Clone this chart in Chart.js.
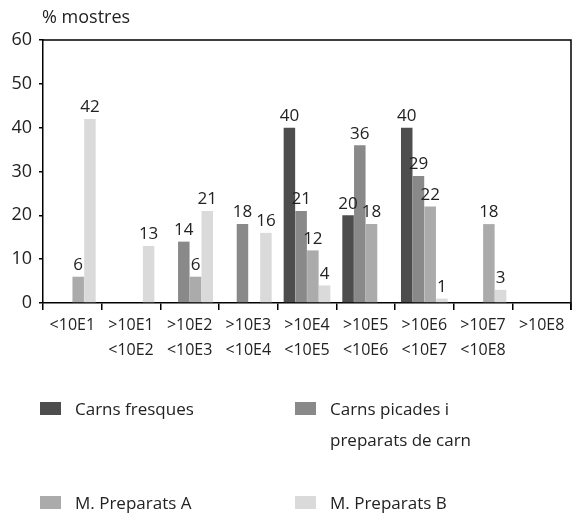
<!DOCTYPE html>
<html>
<head>
<meta charset="utf-8">
<script src="https://cdn.jsdelivr.net/npm/chart.js@4"></script>
<style>
  body { margin: 0; background: #fff; }
  #wrap { position: relative; width: 574px; height: 515px; font-family: "Open Sans", sans-serif; color: #222; }
  #legend .item { position: absolute; font-size: 17px; line-height: 31px; }
  #legend .box { position: absolute; width: 21px; height: 13px; }
</style>
</head>
<body>
<div id="wrap">
  <canvas id="myChart" width="574" height="515"></canvas>
  <div id="legend"></div>
</div>
<script>
let categories = [
    '<10E1',
    ['>10E1', '<10E2'],
    ['>10E2', '<10E3'],
    ['>10E3', '<10E4'],
    ['>10E4', '<10E5'],
    ['>10E5', '<10E6'],
    ['>10E6', '<10E7'],
    ['>10E7', '<10E8'],
    '>10E8'
]
let carnsFresques = [null, null, null, null, 40, 20, 40, null, null]
let carnsPicades = [null, null, 14, 18, 21, 36, 29, null, null]
let preparatsA = [6, null, 6, null, 12, 18, 22, 18, null]
let preparatsB = [42, 13, 21, 16, 4, null, 1, 3, null]
let yTicks = [0, 10, 20, 30, 40, 50, 60]

let seriesNames = ['Carns fresques', 'Carns picades i\npreparats de carn', 'M. Preparats A', 'M. Preparats B']
let colors = ['#4d4d4d', '#898989', '#ababab', '#dadada']

// etiquetes de valor damunt de cada barra
const valueLabels = {
    id: 'valueLabels',
    afterDatasetsDraw(chart) {
        const ctx = chart.ctx
        ctx.save()
        ctx.font = '17px "Open Sans", sans-serif'
        ctx.fillStyle = '#222'
        ctx.textAlign = 'center'
        ctx.textBaseline = 'bottom'
        chart.data.datasets.forEach((ds, i) => {
            chart.getDatasetMeta(i).data.forEach((bar, j) => {
                if (ds.data[j] == null) return
                ctx.fillText(ds.data[j], bar.x, bar.y - 3)
            })
        })
        ctx.restore()
    }
}

// marc superior i dret + títol de l'eix
const frame = {
    id: 'frame',
    afterDraw(chart) {
        const ctx = chart.ctx
        const a = chart.chartArea
        ctx.save()
        ctx.strokeStyle = '#000'
        ctx.lineWidth = 1.5
        ctx.beginPath()
        ctx.moveTo(a.left, a.top)
        ctx.lineTo(a.right, a.top)
        ctx.lineTo(a.right, a.bottom + 7)
        ctx.stroke()
        ctx.font = '18px "Open Sans", sans-serif'
        ctx.fillStyle = '#222'
        ctx.textBaseline = 'middle'
        ctx.fillText('% mostres', 42, 18)
        ctx.restore()
    }
}

const ctx = document.getElementById('myChart')

const dataset = {
    labels: categories,
    datasets: [carnsFresques, carnsPicades, preparatsA, preparatsB].map((d, i) => ({
        label: seriesNames[i],
        data: d,
        backgroundColor: colors[i],
        borderWidth: 0,
        categoryPercentage: 0.8,
        barPercentage: 0.98
    }))
}

const config = {
    type: 'bar',
    data: dataset,
    options: {
        responsive: false,
        animation: false,
        layout: { padding: { top: 40, right: 3, left: 0, bottom: 0 } },
        plugins: { legend: { display: false }, tooltip: { enabled: false } },
        scales: {
            x: {
                grid: { offset: true, drawOnChartArea: false, tickLength: 7, color: '#000', lineWidth: 1.5 },
                border: { color: '#000', width: 1.5 },
                ticks: { color: '#222', font: { family: 'Open Sans', size: 16, lineHeight: 1.55 }, padding: 3, maxRotation: 0, autoSkip: false },
                afterFit: (scale) => { scale.height = 212 }
            },
            y: {
                min: 0,
                max: 60,
                afterBuildTicks: (scale) => { scale.ticks = yTicks.map(v => ({ value: v })) },
                grid: { drawOnChartArea: false, tickLength: 4, color: '#000', lineWidth: 1.5 },
                border: { color: '#000', width: 1.5 },
                ticks: { color: '#222', font: { family: 'Open Sans', size: 18 }, padding: 7 },
                afterFit: (scale) => { scale.width = 43 }
            }
        }
    },
    plugins: [valueLabels, frame]
}

const chart = new Chart(ctx, config)

// llegenda en HTML (2 x 2)
let legendHTML = document.getElementById('legend')
let pos = [[40, 393], [295, 393], [40, 487], [295, 487]]
seriesNames.forEach((name, i) => {
    let box = document.createElement('div')
    box.className = 'box'
    box.style.left = pos[i][0] + 'px'
    box.style.top = (pos[i][1] + 9) + 'px'
    box.style.background = colors[i]
    legendHTML.appendChild(box)
    let item = document.createElement('div')
    item.className = 'item'
    item.style.left = (pos[i][0] + 35) + 'px'
    item.style.top = pos[i][1] + 'px'
    item.innerHTML = name.replace('\n', '<br>')
    legendHTML.appendChild(item)
})
</script>
</body>
</html>
